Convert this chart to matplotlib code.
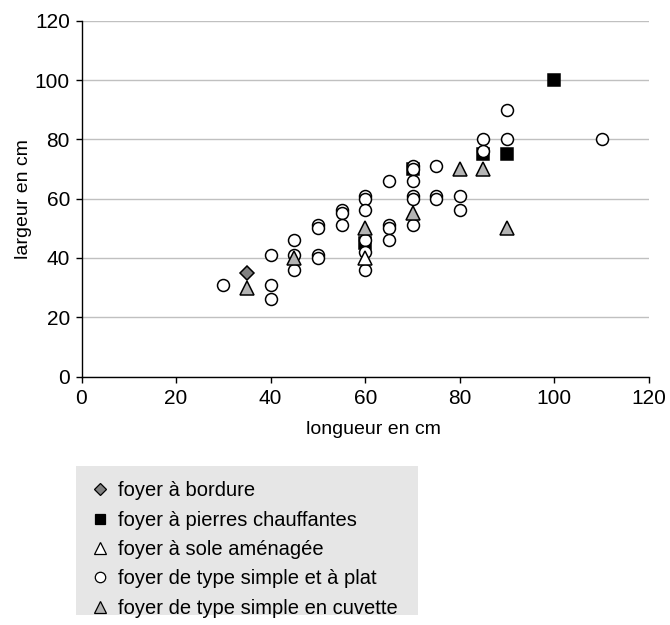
import matplotlib
matplotlib.use("Agg")
import matplotlib.pyplot as plt
from matplotlib.lines import Line2D
from matplotlib.patches import Rectangle

plt.rcParams['font.family'] = ['Liberation Sans', 'DejaVu Sans']

# --- data (longueur, largeur en cm) ---
bordure_x = [35]
bordure_y = [35]

pierres_x = [60, 70, 85, 90, 100]
pierres_y = [45, 70, 75, 75, 100]

sole_x = [60]
sole_y = [40]

simple_x = [30, 40, 40, 40, 45, 45, 45, 50, 50, 50, 50, 55, 55, 55,
            60, 60, 60, 60, 60, 60, 65, 65, 65, 65, 70, 70, 70, 70, 70, 70,
            75, 75, 75, 80, 80, 85, 85, 90, 90, 110]
simple_y = [31, 41, 31, 26, 46, 41, 36, 51, 50, 41, 40, 56, 55, 51,
            61, 60, 56, 46, 42, 36, 66, 51, 50, 46, 71, 70, 66, 61, 60, 51,
            71, 61, 60, 61, 56, 80, 76, 90, 80, 80]

cuvette_x = [35, 45, 60, 70, 80, 85, 90]
cuvette_y = [30, 40, 50, 55, 70, 70, 50]

labels = ["foyer à bordure", "foyer à pierres chauffantes", "foyer à sole aménagée",
          "foyer de type simple et à plat", "foyer de type simple en cuvette"]
x_ticks = [0, 20, 40, 60, 80, 100, 120]
y_ticks = [0, 20, 40, 60, 80, 100, 120]

W, H = 670, 625
fig = plt.figure(figsize=(W / 100, H / 100), dpi=100)
ax = fig.add_axes([81.5 / W, 1 - 376.5 / H, (649 - 81.5) / W, (376.5 - 20.7) / H])

ew = 1.1
ax.plot(pierres_x, pierres_y, ls='none', marker='s', ms=9.2, mfc='black', mec='black',
        mew=ew, zorder=3)
ax.plot(simple_x, simple_y, ls='none', marker='o', ms=8.6, mfc='white', mec='black',
        mew=ew, zorder=4)
ax.plot(sole_x, sole_y, ls='none', marker='^', ms=10.5, mfc='white', mec='black',
        mew=ew, zorder=5)
ax.plot(cuvette_x, cuvette_y, ls='none', marker='^', ms=10.5, mfc='#B4B4B4', mec='black',
        mew=ew, zorder=6)
ax.plot(bordure_x, bordure_y, ls='none', marker='D', ms=7.2, mfc='#808080', mec='black',
        mew=ew, zorder=7)

ax.set_xlim(0, 120)
ax.set_ylim(0, 120)
ax.set_xticks(x_ticks)
ax.set_yticks(y_ticks)
ax.set_xticklabels([str(v) for v in x_ticks])
ax.set_yticklabels([str(v) for v in y_ticks])
ax.tick_params(axis='both', labelsize=15, length=4.3, width=1.0, direction='out')
ax.tick_params(axis='x', pad=5)
ax.tick_params(axis='y', pad=4)
ax.grid(axis='y', color='#C0C0C0', lw=1.0, zorder=0)
ax.set_axisbelow(True)
for s in ['top', 'right']:
    ax.spines[s].set_visible(False)
for s in ['left', 'bottom']:
    ax.spines[s].set_linewidth(1.0)
    ax.spines[s].set_color('black')

ax.set_xlabel("longueur en cm", fontsize=14, labelpad=5)
ax.xaxis.set_label_coords(0.515, -0.125)
ax.set_ylabel("largeur en cm", fontsize=14, labelpad=2)

# legend
fig.patches.append(Rectangle((76 / W, 1 - 615 / H), (418 - 76) / W, (615 - 466) / H,
                             transform=fig.transFigure, facecolor='#E6E6E6',
                             edgecolor='none', zorder=0))
handles = [
    Line2D([], [], ls='none', marker='D', ms=6.5, mfc='#808080', mec='black', mew=0.9),
    Line2D([], [], ls='none', marker='s', ms=7.5, mfc='black', mec='black', mew=0.9),
    Line2D([], [], ls='none', marker='^', ms=8.5, mfc='white', mec='black', mew=0.9),
    Line2D([], [], ls='none', marker='o', ms=7.5, mfc='white', mec='black', mew=0.9),
    Line2D([], [], ls='none', marker='^', ms=8.5, mfc='#B4B4B4', mec='black', mew=0.9),
]
leg = fig.legend(handles, labels, loc='upper left', bbox_to_anchor=(90 / W, 1 - 481.5 / H),
                 frameon=False, fontsize=14.5, handlelength=1.0, handletextpad=0.4,
                 labelspacing=0.51, borderpad=0, borderaxespad=0)

fig.savefig("out.png", dpi=100)
